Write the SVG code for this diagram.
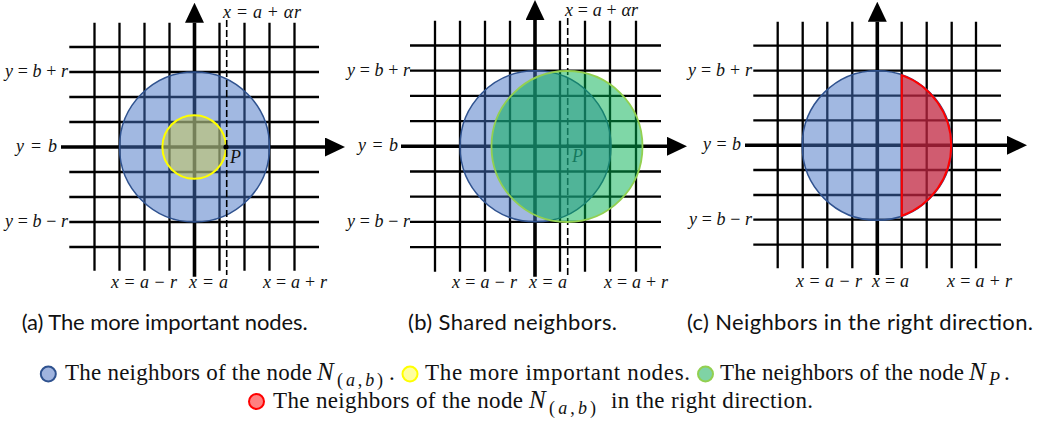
<svg xmlns="http://www.w3.org/2000/svg" width="1045" height="421" viewBox="0 0 1045 421">
<style>
.g{fill:none;stroke:#000;stroke-width:2.3}
.ax{fill:none;stroke:#000;stroke-width:3.6}
.dash{fill:none;stroke:#000;stroke-width:1.6;stroke-dasharray:7 3}
.m{font-family:"Liberation Serif",serif;font-size:18px;fill:#111}
.i{font-style:italic}
.blue{fill:#4472c4;fill-opacity:.5;stroke:#2f528f;stroke-width:1.5}
.yel{fill:#c8c850;fill-opacity:.5;stroke:#ffff00;stroke-width:2}
.grn{fill:#00b050;fill-opacity:.5;stroke:#92d050;stroke-width:1.8}
.red{fill:#ff0000;fill-opacity:.5;stroke:#ff0000;stroke-width:2}
.cap{font-family:Lato,"Open Sans",sans-serif;font-size:22px;fill:#111}
.lg{font-family:"Liberation Serif",serif;font-size:23px;fill:#111}
.N{font-family:"Liberation Serif",serif;font-size:25px;font-style:italic;fill:#111}
.sub{font-family:"Liberation Serif",serif;font-size:18px;fill:#111}
</style>
<defs>
<marker id="ah" markerUnits="userSpaceOnUse" markerWidth="20" markerHeight="19" viewBox="0 0 19 18" refX="0" refY="9" orient="auto">
<path d="M0,0 L19,9 L0,18 Z" fill="#000"/>
</marker>
</defs>
<rect width="1045" height="421" fill="#fff"/>

<!-- Panel A -->
<g id="panel-a">
<path class="g" d="M94.5 22.7V270.7M119.5 22.7V270.7M144.5 22.7V270.7M169.5 22.7V270.7M219.5 22.7V270.7M244.5 22.7V270.7M269.5 22.7V270.7M294.5 22.7V270.7M69.3 47H319M69.3 72H319M69.3 97H319M69.3 122H319M69.3 172H319M69.3 197H319M69.3 222H319M69.3 247H319"/>
<g id="axes-a">
<line class="ax" x1="194.5" y1="276.7" x2="194.5" y2="22.7" marker-end="url(#ah)"/>
<line class="ax" x1="61" y1="147" x2="325" y2="147" marker-end="url(#ah)"/>
</g>
<circle id="a-neighbors" class="blue" cx="194.5" cy="147" r="75"/>
<circle id="a-important" class="yel" cx="194.2" cy="147" r="31.8"/>
<line class="dash" x1="226.7" y1="20" x2="226.7" y2="275"/>
<circle id="a-P" cx="226" cy="147" r="2.6" fill="#000"/>
<text class="m i" x="230" y="163">P</text>
<text class="m" x="223" y="18" textLength="78"><tspan class="i">x</tspan> = <tspan class="i">a</tspan> + <tspan class="i">αr</tspan></text>
<text class="m" x="5" y="77" textLength="63"><tspan class="i">y</tspan> = <tspan class="i">b</tspan> + <tspan class="i">r</tspan></text>
<text class="m" x="16" y="152" textLength="41"><tspan class="i">y</tspan> = <tspan class="i">b</tspan></text>
<text class="m" x="5" y="227" textLength="63"><tspan class="i">y</tspan> = <tspan class="i">b</tspan> − <tspan class="i">r</tspan></text>
<text class="m" x="111" y="288" textLength="66"><tspan class="i">x</tspan> = <tspan class="i">a</tspan> − <tspan class="i">r</tspan></text>
<text class="m" x="189" y="288" textLength="39"><tspan class="i">x</tspan> = <tspan class="i">a</tspan></text>
<text class="m" x="263" y="288" textLength="64"><tspan class="i">x</tspan> = <tspan class="i">a</tspan> + <tspan class="i">r</tspan></text>
<text class="cap" x="21.7" y="330" textLength="286">(a) The more important nodes.</text>
</g>

<!-- Panel B -->
<g id="panel-b">
<path class="g" d="M435 20.7V271.7M460 20.7V271.7M485 20.7V271.7M510 20.7V271.7M560 20.7V271.7M585 20.7V271.7M610 20.7V271.7M636 20.7V271.7M410 45.5H661M410 70.7H661M410 95.9H661M410 121.1H661M410 171.5H661M410 196.7H661M410 221.9H661M410 247.1H661"/>
<g id="axes-b">
<line class="ax" x1="535" y1="276.7" x2="535" y2="20" marker-end="url(#ah)"/>
<line class="ax" x1="401" y1="146.3" x2="667" y2="146.3" marker-end="url(#ah)"/>
</g>
<line class="dash" x1="567.7" y1="18" x2="567.7" y2="277"/>
<circle cx="567.7" cy="146.3" r="2" fill="#000"/>
<text class="m i" x="572" y="162">P</text>
<circle id="b-neighbors" class="blue" cx="535.5" cy="146.3" r="75.5"/>
<circle id="b-P-neighbors" class="grn" cx="567" cy="146.5" r="75.5"/>
<text class="m" x="565" y="16" textLength="73"><tspan class="i">x</tspan> = <tspan class="i">a</tspan> + <tspan class="i">αr</tspan></text>
<text class="m" x="347" y="76" textLength="63"><tspan class="i">y</tspan> = <tspan class="i">b</tspan> + <tspan class="i">r</tspan></text>
<text class="m" x="358" y="151" textLength="40"><tspan class="i">y</tspan> = <tspan class="i">b</tspan></text>
<text class="m" x="347" y="227" textLength="63"><tspan class="i">y</tspan> = <tspan class="i">b</tspan> − <tspan class="i">r</tspan></text>
<text class="m" x="452" y="288" textLength="65"><tspan class="i">x</tspan> = <tspan class="i">a</tspan> − <tspan class="i">r</tspan></text>
<text class="m" x="529" y="288" textLength="38"><tspan class="i">x</tspan> = <tspan class="i">a</tspan></text>
<text class="m" x="604" y="288" textLength="64"><tspan class="i">x</tspan> = <tspan class="i">a</tspan> + <tspan class="i">r</tspan></text>
<text class="cap" x="408" y="330" textLength="209">(b) Shared neighbors.</text>
</g>

<!-- Panel C -->
<g id="panel-c">
<path class="g" d="M777.7 21.7V268.3M802.7 21.7V268.3M827.3 21.7V268.3M852.3 21.7V268.3M901.7 21.7V268.3M926.7 21.7V268.3M951.7 21.7V268.3M976 21.7V268.3M753.3 45.7H1001M753.3 70.7H1001M753.3 95.7H1001M753.3 120.3H1001M753.3 170H1001M753.3 195H1001M753.3 219.7H1001M753.3 244.7H1001"/>
<g id="axes-c">
<line class="ax" x1="877.3" y1="275" x2="877.3" y2="21.7" marker-end="url(#ah)"/>
<line class="ax" x1="745" y1="145.3" x2="1007" y2="145.3" marker-end="url(#ah)"/>
</g>
<circle id="c-neighbors" class="blue" cx="877" cy="145.5" r="74.8"/>
<path id="c-right" class="red" d="M901.7 75.1 A74.8 74.8 0 0 1 901.7 215.9 Z"/>
<text class="m" x="688" y="76" textLength="64"><tspan class="i">y</tspan> = <tspan class="i">b</tspan> + <tspan class="i">r</tspan></text>
<text class="m" x="703" y="150" textLength="38"><tspan class="i">y</tspan> = <tspan class="i">b</tspan></text>
<text class="m" x="689" y="225" textLength="63"><tspan class="i">y</tspan> = <tspan class="i">b</tspan> − <tspan class="i">r</tspan></text>
<text class="m" x="796" y="287" textLength="66"><tspan class="i">x</tspan> = <tspan class="i">a</tspan> − <tspan class="i">r</tspan></text>
<text class="m" x="872" y="287" textLength="37"><tspan class="i">x</tspan> = <tspan class="i">a</tspan></text>
<text class="m" x="947" y="287" textLength="65"><tspan class="i">x</tspan> = <tspan class="i">a</tspan> + <tspan class="i">r</tspan></text>
<text class="cap" x="687" y="330" textLength="346">(c) Neighbors in the right direction.</text>
</g>

<!-- Legend -->
<g id="legend">
<circle cx="48.3" cy="374" r="7.5" fill="#a0b4df" stroke="#2f528f" stroke-width="2"/>
<text class="lg" x="65" y="380" textLength="247">The neighbors of the node</text>
<text class="N" x="317" y="380">N</text>
<text class="sub" x="337" y="386" textLength="46">(<tspan class="i">a</tspan>,<tspan class="i">b</tspan>)</text>
<text class="lg" x="389" y="380">.</text>
<circle cx="410" cy="374" r="7.5" fill="#ffffa0" stroke="#ffff00" stroke-width="2"/>
<text class="lg" x="425" y="380" textLength="265">The more important nodes.</text>
<circle cx="705.5" cy="374" r="7.5" fill="#7fd3a5" stroke="#92d050" stroke-width="2"/>
<text class="lg" x="720" y="380" textLength="244">The neighbors of the node</text>
<text class="N" x="969" y="380">N</text>
<text class="sub i" x="989" y="385">P</text>
<text class="lg" x="1004" y="380">.</text>
<circle cx="256.5" cy="401.5" r="7.5" fill="#ff8080" stroke="#ff0000" stroke-width="2"/>
<text class="lg" x="273" y="408" textLength="250">The neighbors of the node</text>
<text class="N" x="529" y="408">N</text>
<text class="sub" x="549" y="414" textLength="47">(<tspan class="i">a</tspan>,<tspan class="i">b</tspan>)</text>
<text class="lg" x="611" y="408" textLength="202">in the right direction.</text>
</g>
</svg>
